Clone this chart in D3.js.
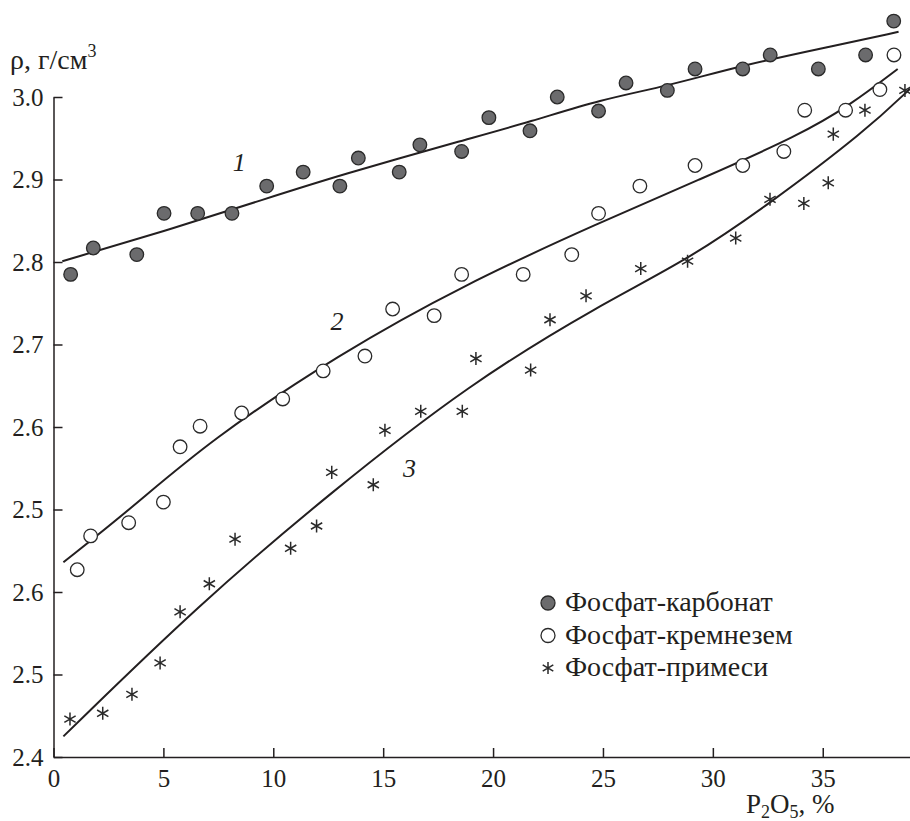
<!DOCTYPE html>
<html>
<head>
<meta charset="utf-8">
<script src="https://cdn.jsdelivr.net/npm/d3@7"></script>
<style>
  body { margin: 0; background: #fff; }
</style>
</head>
<body>
<div id="app"></div>
<script>
// P2O5 content (%) and density
const xCarb = [0.78, 1.81, 3.79, 5.03, 6.56, 8.12, 9.70, 11.36, 13.03, 13.87, 15.73, 16.67, 18.57,
  19.81, 21.68, 22.92, 24.80, 26.05, 27.93, 29.19, 31.36, 32.61, 34.80, 36.95, 38.23]
const yCarb = [2.785, 2.817, 2.809, 2.859, 2.859, 2.859, 2.892, 2.909, 2.892, 2.926, 2.909, 2.942, 2.934,
  2.975, 2.959, 3.000, 2.983, 3.017, 3.008, 3.034, 3.034, 3.051, 3.034, 3.051, 3.092]

const xSil = [1.08, 1.69, 3.42, 5.00, 5.76, 6.67, 8.56, 10.43, 12.27, 14.17, 15.43, 17.32, 18.57,
  21.37, 23.58, 24.80, 26.68, 29.19, 31.36, 33.23, 34.18, 36.04, 37.60, 38.24]
const ySil = [2.427, 2.468, 2.484, 2.509, 2.576, 2.601, 2.617, 2.634, 2.668, 2.686, 2.743, 2.735, 2.785,
  2.785, 2.809, 2.859, 2.892, 2.917, 2.917, 2.934, 2.984, 2.984, 3.009, 3.051]

const xImp = [0.75, 2.24, 3.57, 4.85, 5.76, 7.09, 8.26, 10.79, 11.97, 12.66, 14.55, 15.08, 16.71, 18.60,
  19.22, 21.71, 22.59, 24.23, 26.72, 28.85, 31.04, 32.60, 34.14, 35.25, 35.48, 36.92, 38.74]
const yImp = [2.246, 2.253, 2.276, 2.314, 2.376, 2.410, 2.464, 2.453, 2.480, 2.545, 2.530, 2.596, 2.619, 2.619,
  2.683, 2.669, 2.730, 2.759, 2.792, 2.801, 2.829, 2.876, 2.871, 2.896, 2.955, 2.984, 3.008]

// fitted curves, points
const fitX1 = [0.4, 5.0, 9.7, 13.0, 18.7, 21.7, 24.9, 27.9, 31.4, 35.5, 38.45]
const fitY1 = [2.801, 2.837, 2.877, 2.905, 2.948, 2.970, 2.997, 3.013, 3.039, 3.062, 3.079]
const fitX2 = [0.45, 3.48, 7.12, 13.03, 18.64, 24.86, 29.41, 33.96, 36.24, 38.41]
const fitY2 = [2.436, 2.500, 2.584, 2.689, 2.772, 2.848, 2.900, 2.954, 2.990, 3.034]
const fitX3 = [0.45, 6.66, 12.58, 18.95, 24.86, 28.81, 32.45, 37.0, 38.97]
const fitY3 = [2.225, 2.386, 2.520, 2.653, 2.748, 2.802, 2.868, 2.960, 3.010]

const xTicks = [0, 5, 10, 15, 20, 25, 30, 35]
const yTicks = [2.2, 2.3, 2.4, 2.5, 2.6, 2.7, 2.8, 2.9, 3.0]
const yTickLabels = ["2.4", "2.5", "2.6", "2.5", "2.6", "2.7", "2.8", "2.9", "3.0"]
const legendNames = ["Фосфат-карбонат", "Фосфат-кремнезем", "Фосфат-примеси"]

const ink = "#231f20"

let width = 910, height = 821
let svg = d3.select("#app").append("svg")
    .attr("width", width)
    .attr("height", height)

let x = d3.scaleLinear().domain([0, 38.97]).range([53.5, 910])
let y = d3.scaleLinear().domain([2.2, 3.0]).range([757, 97])

// six-armed asterisk
const star = {
  draw(ctx, size) {
    let r = Math.sqrt(size) / 2, t = r / 2, u = t * Math.sqrt(3)
    ctx.moveTo(0, r); ctx.lineTo(0, -r)
    ctx.moveTo(-u, -t); ctx.lineTo(u, t)
    ctx.moveTo(-u, t); ctx.lineTo(u, -t)
  }
}

// axes
let xAxis = svg.append("g")
    .attr("transform", "translate(0,757)")
    .call(d3.axisBottom(x).tickValues(xTicks).tickSizeInner(-9).tickSizeOuter(0).tickPadding(12))
let yAxis = svg.append("g")
    .attr("transform", "translate(53.5,0)")
    .call(d3.axisLeft(y).tickValues(yTicks).tickSizeInner(-9).tickSizeOuter(0).tickPadding(10)
        .tickFormat((d, i) => yTickLabels[i]))

xAxis.attr("font-family", null).attr("font-size", null)
yAxis.attr("font-family", null).attr("font-size", null)
svg.selectAll(".domain, .tick line").attr("stroke", ink).attr("stroke-width", 1.5)
svg.selectAll(".tick text")
    .attr("fill", ink)
    .attr("font-size", 25)

// axis titles
let yTitle = svg.append("text").attr("x", 10).attr("y", 69)
    .attr("font-size", 28).attr("fill", ink)
yTitle.append("tspan").text("ρ, г/см")
yTitle.append("tspan").attr("dy", -12).attr("font-size", 18).text("3")

let xTitle = svg.append("text").attr("x", 746).attr("y", 813)
    .attr("font-size", 27).attr("fill", ink)
xTitle.append("tspan").text("P")
xTitle.append("tspan").attr("dy", 5).attr("font-size", 18).text("2")
xTitle.append("tspan").attr("dy", -5).text("O")
xTitle.append("tspan").attr("dy", 5).attr("font-size", 18).text("5")
xTitle.append("tspan").attr("dy", -5).text(", %")

// fitted lines
let line = d3.line().x(d => x(d[0])).y(d => y(d[1])).curve(d3.curveBasis)
let fits = [[fitX1, fitY1], [fitX2, fitY2], [fitX3, fitY3]]
svg.append("g").selectAll("path")
    .data(fits)
    .enter().append("path")
    .attr("d", f => line(f[0].map((v, i) => [v, f[1][i]])))
    .attr("fill", "none")
    .attr("stroke", ink)
    .attr("stroke-width", 2)

// curve numbers
let curveLabels = [["1", 8.45, 2.91], ["2", 12.9, 2.717], ["3", 16.2, 2.539]]
svg.append("g").selectAll("text")
    .data(curveLabels)
    .enter().append("text")
    .attr("x", d => x(d[1]))
    .attr("y", d => y(d[2]))
    .attr("text-anchor", "middle")
    .attr("font-size", 26)
    .attr("font-style", "italic")
    .attr("fill", ink)
    .text(d => d[0])

// points
let zip = (a, b) => a.map((v, i) => [v, b[i]])

svg.append("g").selectAll("circle")
    .data(zip(xCarb, yCarb))
    .enter().append("circle")
    .attr("cx", d => x(d[0])).attr("cy", d => y(d[1])).attr("r", 6.8)
    .attr("fill", "#6b6b6d").attr("stroke", "#2a2a2a").attr("stroke-width", 1.3)

svg.append("g").selectAll("circle")
    .data(zip(xSil, ySil))
    .enter().append("circle")
    .attr("cx", d => x(d[0])).attr("cy", d => y(d[1])).attr("r", 6.8)
    .attr("fill", "#fff").attr("stroke", "#2a2a2a").attr("stroke-width", 1.3)

svg.append("g").selectAll("path")
    .data(zip(xImp, yImp))
    .enter().append("path")
    .attr("transform", d => "translate(" + x(d[0]) + "," + y(d[1]) + ")")
    .attr("d", d3.symbol().type(star).size(170))
    .attr("fill", "none").attr("stroke", "#2a2a2a").attr("stroke-width", 1.5)

// legend
let legend = svg.append("g").attr("transform", "translate(548,603)")
let rows = legend.selectAll("g")
    .data(legendNames)
    .enter().append("g")
    .attr("transform", (d, i) => "translate(0," + (i * 32.5) + ")")
rows.filter((d, i) => i < 2).append("circle")
    .attr("r", 7)
    .attr("fill", (d, i) => i === 0 ? "#6b6b6d" : "#fff")
    .attr("stroke", "#2a2a2a").attr("stroke-width", 1.3)
rows.filter((d, i) => i === 2).append("path")
    .attr("d", d3.symbol().type(star).size(150))
    .attr("fill", "none").attr("stroke", "#2a2a2a").attr("stroke-width", 1.5)
rows.append("text")
    .attr("x", 17)
    .attr("y", 8)
    .attr("font-size", 28)
    .attr("fill", ink)
    .text(d => d)

// serif face on every label, set last
svg.selectAll("text").attr("font-family", "Liberation Serif")
</script>
</body>
</html>
